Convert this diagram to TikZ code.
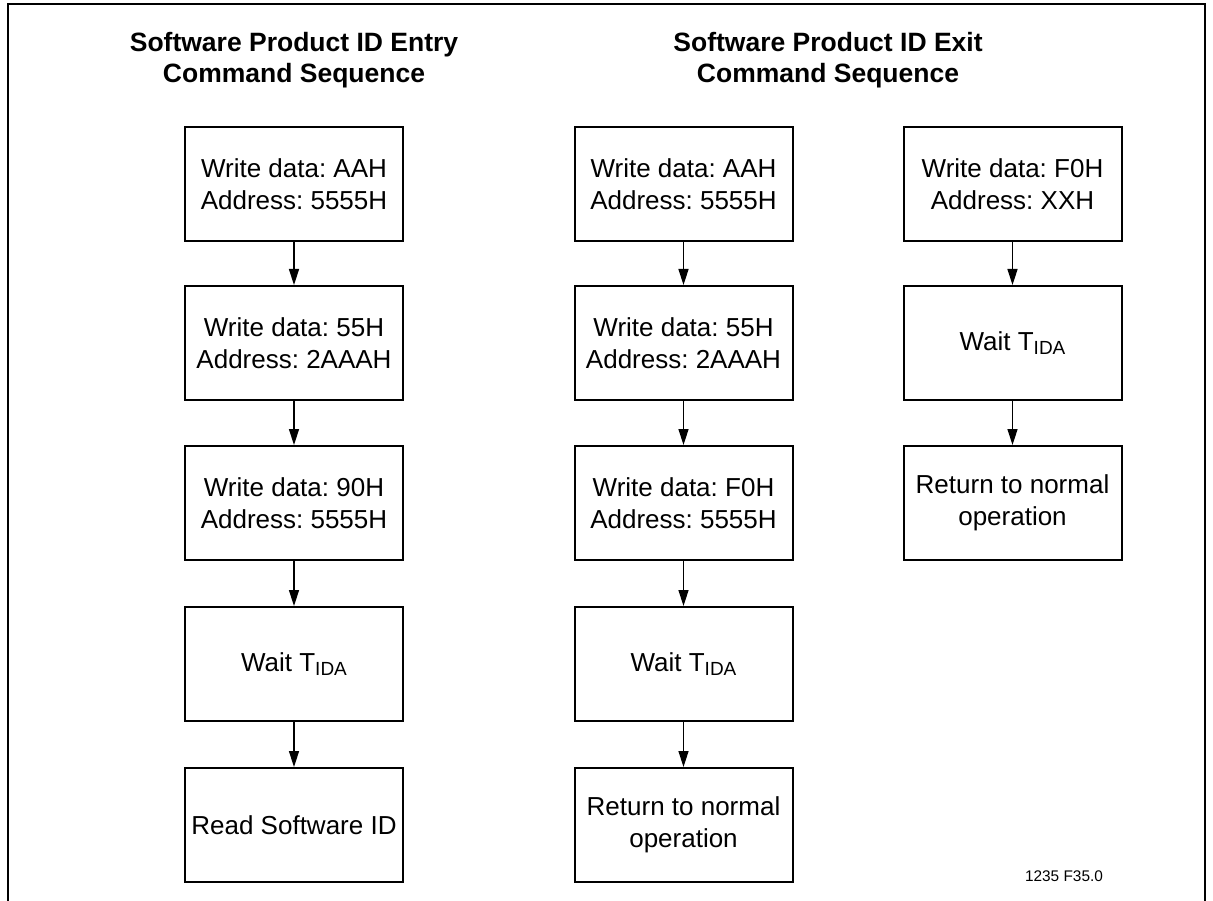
\documentclass[tikz,border=0pt]{standalone}
\usepackage{fontspec}
\setmainfont{Liberation Sans}
\usetikzlibrary{arrows.meta}
\frenchspacing
\tikzset{
  stepbox/.style={draw, line width=2pt, rectangle, minimum width=218pt, minimum height=114pt,
    inner sep=0pt, align=center, font=\fontsize{26}{32}\selectfont},
  flow/.style={line width=1.5pt, -{Triangle[length=16pt,width=10pt]}},
  ttl/.style={inner sep=0pt, anchor=base, font=\bfseries\fontsize{26.5}{31}\selectfont}
}
\newcommand{\tida}{Wait T\raisebox{-3.5pt}{\fontsize{19}{19}\selectfont IDA}}
\begin{document}
\begin{tikzpicture}[x=1pt,y=-1pt]
\useasboundingbox (0,0) rectangle (1213,901);
\fill[white] (0,0) rectangle (1213,901);
\draw[line width=1.5pt] (8,901) -- (8,4) -- (1205,4) -- (1205,901);

% titles
\node[ttl] (t1a) at (294,52) {Software Product ID Entry};
\node[ttl] (t1b) at (294,83) {Command Sequence};
\node[ttl] (t2a) at (828,52) {Software Product ID Exit};
\node[ttl] (t2b) at (828,83) {Command Sequence};

% column 1
\node[stepbox] (a1) at (294,184) {Write data: AAH\\Address: 5555H};
\node[stepbox] (a2) at (294,343) {Write data: 55H\\Address: 2AAAH};
\node[stepbox] (a3) at (294,503) {Write data: 90H\\Address: 5555H};
\node[stepbox] (a4) at (294,664) {\tida};
\node[stepbox] (a5) at (294,825) {Read Software ID};

% column 2
\node[stepbox] (b1) at (683.5,184) {Write data: AAH\\Address: 5555H};
\node[stepbox] (b2) at (683.5,343) {Write data: 55H\\Address: 2AAAH};
\node[stepbox] (b3) at (683.5,503) {Write data: F0H\\Address: 5555H};
\node[stepbox] (b4) at (683.5,664) {\tida};
\node[stepbox] (b5) at (683.5,825) {Return to normal\\operation};

% column 3
\node[stepbox] (c1) at (1012.5,184) {Write data: F0H\\Address: XXH};
\node[stepbox] (c2) at (1012.5,343) {\tida};
\node[stepbox] (c3) at (1012.5,503) {Return to normal\\operation};

\foreach \p/\q in {a1/a2,a2/a3,a3/a4,a4/a5,b1/b2,b2/b3,b3/b4,b4/b5,c1/c2,c2/c3}
  \draw[flow] (\p.south) -- (\q.north);

\node[inner sep=0pt, anchor=base, font=\fontsize{15.4}{18}\selectfont] (fig) at (1064,881) {1235 F35.0};
\end{tikzpicture}
\end{document}
